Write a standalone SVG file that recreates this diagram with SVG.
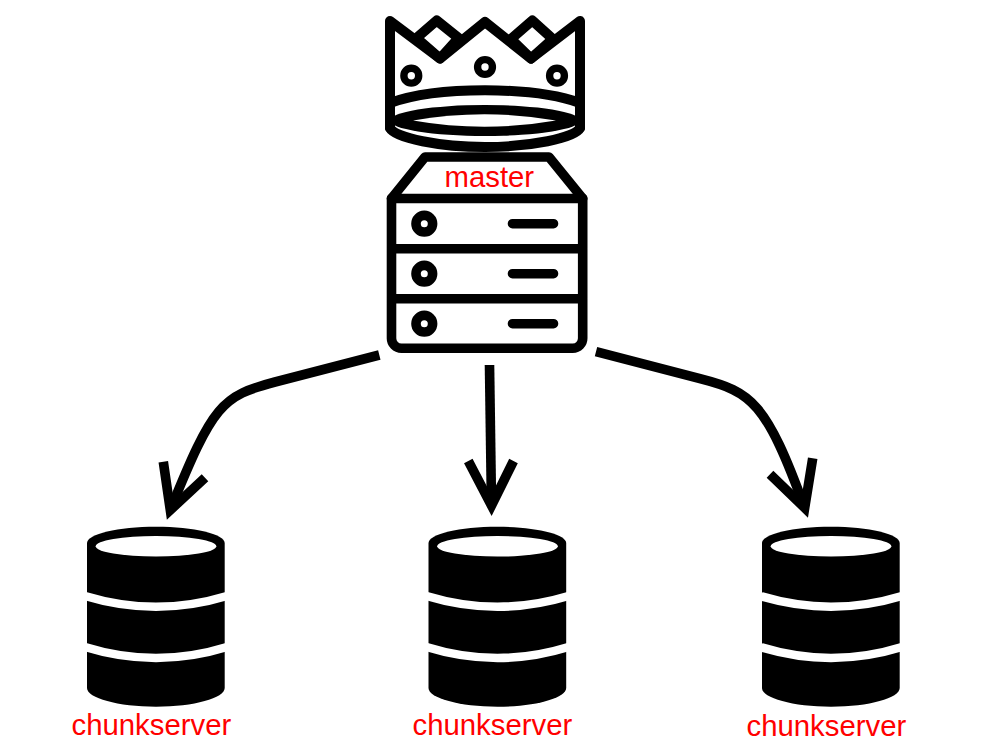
<svg xmlns="http://www.w3.org/2000/svg" width="1000" height="750" viewBox="0 0 1000 750">
<style>
.ln{fill:none;stroke:#000;stroke-width:9.6;stroke-linejoin:round;stroke-linecap:round}
.cr{stroke-width:10}
.dot{fill:none;stroke:#000;stroke-width:7.4}
.lbl{font-family:"Liberation Sans",Arial,sans-serif;font-size:29.33px;fill:#f00}
.arrow{fill:none;stroke:#000;stroke-width:9.6;stroke-linejoin:miter;stroke-miterlimit:10}
.gap{fill:none;stroke:#fff;stroke-width:8.6}
</style>
<defs>
<g id="cyl">
<path fill="#000" d="M87 543C87 534 118 526.7 156 526.7S224.700 534 224.700 543V688C224.700 698 194 706.700 156 706.700S87 698 87 688Z"/>
<ellipse cx="156" cy="546.300" rx="60.300" ry="10.300" fill="#fff"/>
<path class="gap" d="M85 596Q156 617.500 227 596"/>
<path class="gap" d="M85 647Q156 669 227 647"/>
</g>
</defs>
<g id="crown">
<path class="ln cr" d="M390 128V21L440 58.500L485 22L531 58.500L580 21V128"/>
<path class="ln cr" d="M416.500 38L436.700 20.500L458.500 38L440 58.500ZM511 39L532.300 20.500L552.800 39L531 58.500Z"/>
<circle class="dot" cx="411.300" cy="75.700" r="7.400"/>
<circle class="dot" cx="485" cy="67" r="7.400"/>
<circle class="dot" cx="557" cy="75.700" r="7.400"/>
<path class="ln cr" style="stroke-linecap:butt" d="M390 103C415 94 450 90.300 485 90.300S555 94 580 103"/>
<ellipse cx="485" cy="120.500" rx="95" ry="15.500" fill="#000"/>
<path fill="#fff" d="M413 120.500Q484.500 108 556 120.500Q484.500 133 413 120.500Z"/>
<path class="ln cr" d="M390 128C395 138 440 147 485 147S575 138 580 128"/>
</g>
<g id="master">
<path class="ln" d="M391.500 198.500L425 157H549L582.700 198.500"/>
<path class="ln" d="M391.500 198.500H582.700V338A10 10 0 0 1 572.700 348.300H401.500A10 10 0 0 1 391.500 338ZM391.500 248.700H582.700M391.500 298.700H582.700"/>
<circle class="ln" cx="424.300" cy="223.700" r="8.300"/>
<circle class="ln" cx="424.300" cy="273.700" r="8.300"/>
<circle class="ln" cx="424.300" cy="323.700" r="8.300"/>
<path class="ln" d="M512.500 223.700H553.500M512.500 273.700H553.500M512.500 323.700H553.500"/>
<text class="lbl" x="444.500" y="187">master</text>
</g>
<g id="chunkserver1">
<use href="#cyl"/>
<text class="lbl" x="71.500" y="735">chunkserver</text>
</g>
<g id="chunkserver2">
<use href="#cyl" x="341.500"/>
<text class="lbl" x="412.500" y="735">chunkserver</text>
</g>
<g id="chunkserver3">
<use href="#cyl" x="675"/>
<text class="lbl" x="746.500" y="736">chunkserver</text>
</g>
<g id="connectors">
<path class="arrow" d="M379.300 355L275 382C222 396 213 404 170.300 510"/>
<path class="arrow" d="M163.300 461.700L170.300 510L205 477.700"/>
<path class="arrow" d="M489.500 365L491.500 505"/>
<path class="arrow" d="M468.300 461L491.500 505.500L513.500 461"/>
<path class="arrow" d="M596 351.700L700 378.700C752 392 766 402 804.700 507.800"/>
<path class="arrow" d="M812.700 458.300L804.700 507.800L770 474.300"/>
</g>
</svg>
